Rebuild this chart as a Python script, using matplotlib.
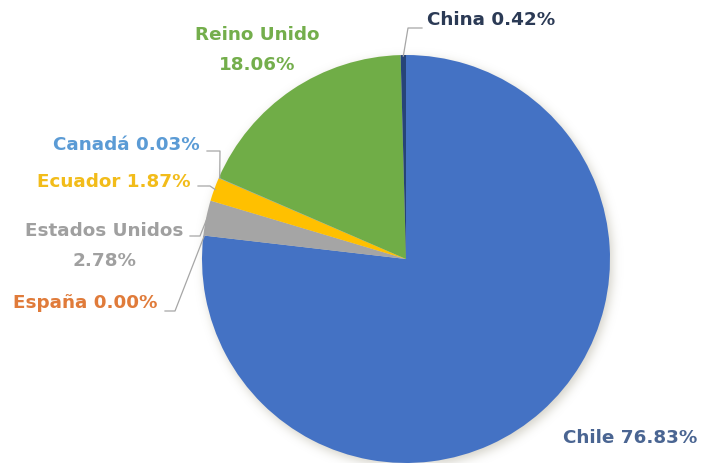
import numpy as np
import matplotlib as mpl
mpl.use('Agg')
import matplotlib.pyplot as plt

# export share by destination country
countries = ['Chile', 'España', 'Estados Unidos', 'Ecuador', 'Canadá', 'Reino Unido', 'China']
shares = [76.83, 0.00, 2.78, 1.87, 0.03, 18.06, 0.42]
colors = ['#4472C4', '#ED7D31', '#A5A5A5', '#FFC000', '#5B9BD5', '#70AD47', '#264478']
label_colors = ['#4a6592', '#E07B3A', '#A0A0A0', '#F2BC1A', '#5B9BD5', '#74AE4C', '#2B3A55']

W, H = 703, 464
CX, CY, R = 406, 260, 204

def px(x, y):
    # pixel coords (y down) -> axes data coords (y up)
    return x, H - y

def gauss_blur(img, sigma):
    k = np.arange(-3 * sigma, 3 * sigma + 1)
    g = np.exp(-k**2 / (2.0 * sigma**2))
    g /= g.sum()
    img = np.apply_along_axis(lambda r: np.convolve(r, g, mode='same'), 0, img)
    img = np.apply_along_axis(lambda r: np.convolve(r, g, mode='same'), 1, img)
    return img

fig = plt.figure(figsize=(W / 100, H / 100), dpi=100)
ax = fig.add_axes([0, 0, 1, 1])

# soft drop shadow under the pie
yy, xx = np.mgrid[0:H, 0:W]
disk = (((xx - CX - 2)**2 + (yy - CY - 3)**2) < R**2).astype(float)
alpha = gauss_blur(disk, 5) * 0.45
shadow = np.zeros((H, W, 4))
shadow[..., 0] = 0.62
shadow[..., 1] = 0.60
shadow[..., 2] = 0.52
shadow[..., 3] = alpha
ax.imshow(shadow, extent=(0, W, 0, H), origin='upper', zorder=0, interpolation='bilinear')

ax.pie(shares, colors=colors, startangle=90, counterclock=False,
       center=px(CX, CY), radius=R, wedgeprops=dict(linewidth=0, zorder=1))

# wedge boundaries (degrees), clockwise from the top
frac = np.array(shares) / sum(shares)
ends = 90 - 360 * np.cumsum(frac)
starts = np.concatenate([[90], ends[:-1]])

def edge(theta_deg, r=R):
    t = np.deg2rad(theta_deg)
    return CX + r * np.cos(t), CY - r * np.sin(t)

# label text, text centre (pixel coords) and leader path
labels = {
    'Chile': ('Chile 76.83%', (630, 438), None),
    'España': ('España 0.00%', (85, 303), [(165, 312), (175, 312)]),
    'Estados Unidos': ('Estados Unidos\n2.78%', (104, 246), [(190, 237), (200, 237)]),
    'Ecuador': ('Ecuador 1.87%', (114, 182), [(198, 187), (210, 187)]),
    'Canadá': ('Canadá 0.03%', (126, 145), [(207, 152), (220, 152)]),
    'Reino Unido': ('Reino Unido\n18.06%', (257, 50), None),
    'China': ('China 0.42%', (491, 20), [(422, 29), (408, 29)]),
}

for i, name in enumerate(countries):
    text, (tx, ty), path = labels[name]
    ax.text(*px(tx, ty), text, ha='center', va='center', color=label_colors[i],
            fontsize=13.2, fontweight='bold', linespacing=1.85, zorder=3)
    if path is not None:
        mid = (starts[i] + ends[i]) / 2
        ex, ey = edge(mid, R - 1)
        pts = path + [(ex, ey)]
        xs = [p[0] for p in pts]
        ys = [H - p[1] for p in pts]
        ax.plot(xs, ys, color='#A6A6A6', lw=0.9, zorder=2)

ax.set_xlim(0, W)
ax.set_ylim(0, H)
ax.set_aspect('equal')
ax.axis('off')

fig.savefig('out.png', dpi=100, facecolor='white')
